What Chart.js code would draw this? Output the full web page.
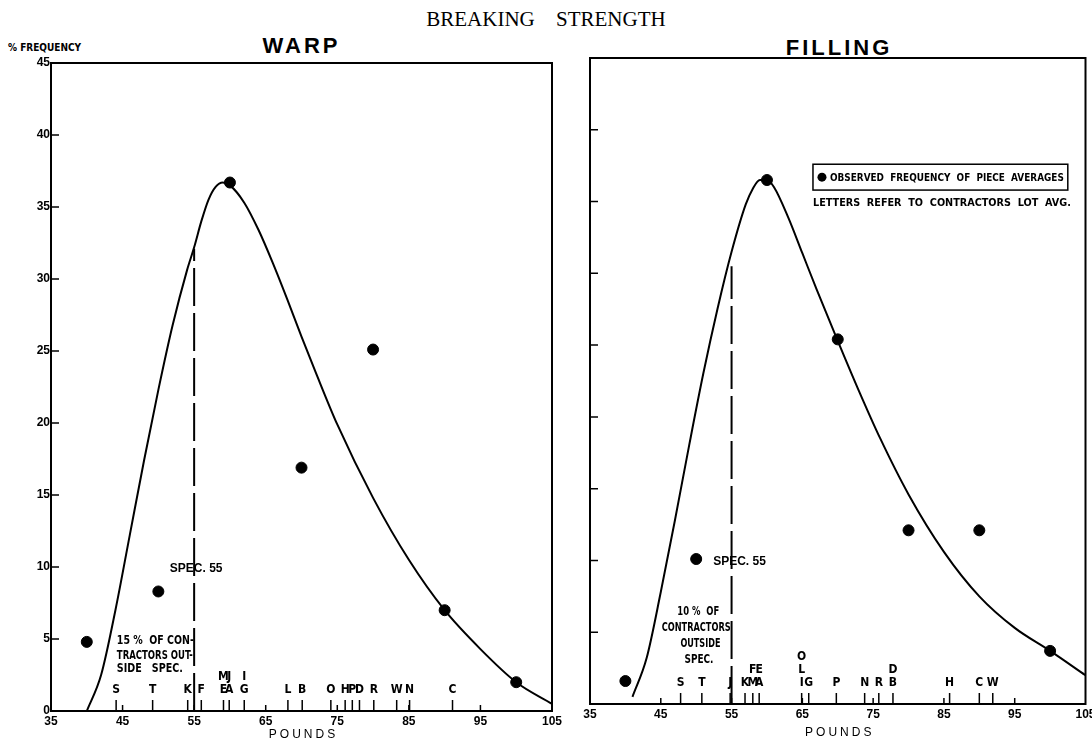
<!DOCTYPE html>
<html>
<head>
<meta charset="utf-8">
<script src="https://cdn.jsdelivr.net/npm/chart.js@4.4.1/dist/chart.umd.min.js"></script>
<style>
  html, body { margin: 0; padding: 0; background: #fff; }
  body { width: 1092px; height: 747px; position: relative; overflow: hidden; }
  canvas { position: absolute; top: 0; }
  #warpChart { left: 0; }
  #fillChart { left: 560px; }
  .hd { position: absolute; white-space: nowrap; color: #000; line-height: 1; }
  #mainTitle { left: 0; width: 1092px; top: 7px; text-align: center;
    font: 21px "Liberation Serif", "DejaVu Serif", serif; word-spacing: 16px; }
  #warpTitle { left: 51px; width: 501px; top: 33px; text-align: center;
    font: bold 22px "Liberation Sans", Arial, sans-serif; letter-spacing: 3px; }
  #fillTitle { left: 590px; width: 498px; top: 35px; text-align: center;
    font: bold 22px "Liberation Sans", Arial, sans-serif; letter-spacing: 3px; }
  #freq { left: 8px; top: 43px; font-weight: bold; font-size: 10px;
    font-family: "DejaVu Sans Condensed", "DejaVu Sans", sans-serif; font-stretch: condensed; }
</style>
</head>
<body>
<div class="hd" id="mainTitle">BREAKING STRENGTH</div>
<div class="hd" id="warpTitle">WARP</div>
<div class="hd" id="fillTitle">FILLING</div>
<div class="hd" id="freq">% FREQUENCY</div>
<canvas id="warpChart" width="570" height="747"></canvas>
<canvas id="fillChart" width="532" height="747"></canvas>

<script>
// ==== o'qlar ====
const xTicks = [35, 45, 55, 65, 75, 85, 95, 105];
const yTicks = [0, 5, 10, 15, 20, 25, 30, 35, 40, 45];
const specValue = 55;

// ==== WARP: kuzatilgan nuqtalar ====
const warpDotX = [40, 50, 60, 70, 80, 90, 100];
const warpDotY = [4.8, 8.3, 36.7, 16.9, 25.1, 7.0, 2.0];

// ==== WARP: egri chiziq ====
const warpCurveX = [40, 42, 44, 46, 48, 50, 52, 54, 55, 56, 57, 58, 59, 60, 62, 64, 66, 68, 70, 72, 75, 80, 85, 90, 95, 100, 105];
const warpCurveY = [0, 2.5, 7, 12.2, 17.4, 22.3, 26.8, 30.6, 32.2, 34.0, 35.5, 36.4, 36.7, 36.5, 35.3, 33.4, 31.1, 28.6, 26.0, 23.5, 19.9, 14.8, 10.5, 7.0, 4.3, 2.0, 0.5];
const warpSpecTop = 32.1;

// ==== WARP: pudratchilar harflari (pastdan yuqoriga) ====
const warpLetters = ['S', 'T', 'K', 'F', 'EM', 'AJ', 'GI', 'L', 'B', 'O', 'H', 'P', 'D', 'R', 'W', 'N', 'C'];
const warpLetterX = [44.1, 49.2, 54.1, 56.0, 59.1, 59.9, 62.0, 68.1, 70.1, 74.1, 76.1, 77.1, 78.1, 80.1, 83.3, 85.1, 91.1];

// ==== FILLING: kuzatilgan nuqtalar ====
const fillDotX = [40, 50, 60, 70, 80, 90, 100];
const fillDotY = [1.6, 10.1, 36.5, 25.4, 12.1, 12.1, 3.7];

// ==== FILLING: egri chiziq ====
const fillCurveX = [41, 43, 45, 47, 49, 51, 53, 55, 57, 58, 59, 60, 61, 63, 65, 67, 70, 73, 76, 80, 85, 90, 95, 100, 105];
const fillCurveY = [0.5, 3.2, 7.8, 12.8, 18.0, 23.0, 27.5, 31.5, 34.8, 35.9, 36.5, 36.5, 36.0, 33.9, 31.4, 28.9, 25.3, 21.8, 18.5, 14.6, 10.6, 7.5, 5.3, 3.7, 2.0];
const fillSpecTop = 30.5;

// ==== FILLING: pudratchilar harflari ====
const fillLetters = ['S', 'T', 'J', 'K', 'MF', 'AE', 'ILO', 'G', 'P', 'N', 'R', 'BD', 'H', 'C', 'W'];
const fillLetterX = [47.8, 50.8, 54.8, 56.9, 58.0, 58.9, 64.9, 65.9, 69.8, 73.8, 75.8, 77.8, 85.8, 90.0, 91.9];

const boldFont = '"Liberation Sans", Arial, sans-serif';
const narrowFont = '"DejaVu Sans Condensed", "DejaVu Sans", sans-serif';

const pairs = (xs, ys) => xs.map((x, i) => ({x: x, y: ys[i]}));

// ==== tor shriftni o'rnatuvchi funksiya ====
const setNarrow = (ctx, size) => {
    ctx.font = 'bold ' + size + 'px ' + narrowFont;
    ctx.fontStretch = 'condensed';
};

// ==== ramka, tiklar, harflar va yozuvlarni chizuvchi plagin ====
const extrasPlugin = {
    id: 'extras',
    afterDatasetsDraw(chart, args, opts) {
        const {ctx, chartArea: a, scales: {x, y}} = chart;
        ctx.save();
        ctx.strokeStyle = '#000';
        ctx.fillStyle = '#000';

        // ramka
        ctx.lineWidth = 2;
        ctx.strokeRect(a.left, a.top, a.right - a.left, a.bottom - a.top);

        // ichki tiklar
        ctx.lineWidth = 1.5;
        ctx.beginPath();
        yTicks.slice(1, -1).forEach(v => {
            const py = y.getPixelForValue(v);
            ctx.moveTo(a.left, py);
            ctx.lineTo(a.left + 8, py);
        });
        xTicks.slice(1, -1).forEach(v => {
            const px = x.getPixelForValue(v);
            ctx.moveTo(px, a.bottom);
            ctx.lineTo(px, a.bottom - 6);
        });
        ctx.stroke();

        // harflar
        setNarrow(ctx, 12);
        ctx.textAlign = 'center';
        ctx.textBaseline = 'alphabetic';
        ctx.lineWidth = 1.5;
        opts.letters.forEach((s, i) => {
            const px = x.getPixelForValue(opts.letterX[i]);
            ctx.beginPath();
            ctx.moveTo(px, a.bottom);
            ctx.lineTo(px, a.bottom - 11);
            ctx.stroke();
            s.split('').forEach((ch, k) => {
                ctx.fillText(ch, px, a.bottom - 18 - k * 13);
            });
        });

        // yozuvlar
        ctx.textBaseline = 'middle';
        opts.notes.forEach(n => {
            if (n.narrow) {
                setNarrow(ctx, n.size);
            } else {
                ctx.font = 'bold ' + n.size + 'px ' + boldFont;
                ctx.fontStretch = 'normal';
            }
            ctx.textAlign = n.align;
            ctx.fillText(n.text, x.getPixelForValue(n.x), y.getPixelForValue(n.y), n.w);
        });

        // POUNDS
        ctx.font = '12px ' + boldFont;
        ctx.fontStretch = 'normal';
        ctx.letterSpacing = '3px';
        ctx.textAlign = 'center';
        ctx.fillText('POUNDS', (a.left + a.right) / 2 + 2, opts.poundsY);
        ctx.letterSpacing = '0px';

        // legenda
        if (opts.legend) {
            const L = opts.legend;
            const x0 = x.getPixelForValue(L.x0), x1 = x.getPixelForValue(L.x1);
            const y0 = y.getPixelForValue(L.y0), y1 = y.getPixelForValue(L.y1);
            ctx.lineWidth = 1.5;
            ctx.strokeRect(x0, y0, x1 - x0, y1 - y0);
            ctx.beginPath();
            ctx.arc(x0 + 9, (y0 + y1) / 2, 4.5, 0, Math.PI * 2);
            ctx.fill();
            setNarrow(ctx, 11);
            ctx.textAlign = 'left';
            ctx.fillText(L.line1, x0 + 17, (y0 + y1) / 2 + 1, x1 - x0 - 21);
            ctx.fillText(L.line2, x0, y.getPixelForValue(L.y2), x1 - x0 + 3);
        }
        ctx.restore();
    }
};

const makeChart = (id, dotX, dotY, curveX, curveY, specTop, cfg) => {
    return new Chart(document.getElementById(id), {
        data: {
            datasets: [
                {
                    type: 'line',
                    label: 'curve',
                    data: pairs(curveX, curveY),
                    borderColor: '#000',
                    borderWidth: 2,
                    pointRadius: 0,
                    tension: 0.4,
                    cubicInterpolationMode: 'monotone'
                },
                {
                    type: 'line',
                    label: 'spec',
                    data: [{x: specValue, y: 0}, {x: specValue, y: specTop}],
                    borderColor: '#000',
                    borderWidth: 2,
                    borderDash: [38, 7],
                    pointRadius: 0
                },
                {
                    type: 'scatter',
                    label: 'observed',
                    data: pairs(dotX, dotY),
                    backgroundColor: '#000',
                    borderColor: '#000',
                    pointRadius: 5.5
                }
            ]
        },
        options: {
            responsive: false,
            animation: false,
            layout: {padding: cfg.padding},
            plugins: {
                legend: {display: false},
                tooltip: {enabled: false},
                extras: {letters: cfg.letters, letterX: cfg.letterX, notes: cfg.notes, legend: cfg.legend, poundsY: cfg.poundsY}
            },
            scales: {
                x: {
                    type: 'linear',
                    min: 35,
                    max: 105,
                    afterBuildTicks: s => { s.ticks = xTicks.map(v => ({value: v})); },
                    afterFit: s => { s.height = cfg.xHeight; s.paddingLeft = 0; s.paddingRight = 0; },
                    ticks: {color: '#000', font: {family: boldFont, size: 12, weight: 'bold'}, padding: 3, maxRotation: 0, autoSkip: false},
                    grid: {drawOnChartArea: false, drawTicks: false},
                    border: {color: '#000', width: 2}
                },
                y: {
                    type: 'linear',
                    min: 0,
                    max: 45,
                    afterBuildTicks: s => { s.ticks = yTicks.map(v => ({value: v})); },
                    afterFit: s => { s.width = cfg.yWidth; },
                    ticks: {display: cfg.yLabels, color: '#000', font: {family: boldFont, size: 12, weight: 'bold'}, padding: 1},
                    grid: {drawOnChartArea: false, drawTicks: false},
                    border: {color: '#000', width: 2}
                }
            }
        },
        plugins: [extrasPlugin]
    });
};

const warpChart = makeChart('warpChart', warpDotX, warpDotY, warpCurveX, warpCurveY, warpSpecTop, {
    padding: {top: 63, right: 18, left: 0, bottom: 0},
    xHeight: 36,
    yWidth: 51,
    yLabels: true,
    poundsY: 735,
    letters: warpLetters,
    letterX: warpLetterX,
    notes: [
        {text: 'SPEC. 55', x: 51.6, y: 9.9, align: 'left', size: 12, w: 57},
        {text: '15 %  OF CON-', x: 44.2, y: 4.85, align: 'left', size: 12, narrow: true, w: 77},
        {text: 'TRACTORS OUT-', x: 44.2, y: 3.8, align: 'left', size: 12, narrow: true, w: 76},
        {text: 'SIDE   SPEC.', x: 44.2, y: 2.9, align: 'left', size: 12, narrow: true, w: 66}
    ]
});

const fillChart = makeChart('fillChart', fillDotX, fillDotY, fillCurveX, fillCurveY, fillSpecTop, {
    padding: {top: 58, right: 4, left: 0, bottom: 0},
    xHeight: 43,
    yWidth: 30,
    yLabels: false,
    poundsY: 733,
    letters: fillLetters,
    letterX: fillLetterX,
    notes: [
        {text: 'SPEC. 55', x: 52.4, y: 9.9, align: 'left', size: 12, w: 60},
        {text: '10 %  OF', x: 50.3, y: 6.4, align: 'center', size: 12, narrow: true, w: 42},
        {text: 'CONTRACTORS', x: 50.0, y: 5.3, align: 'center', size: 12, narrow: true, w: 69},
        {text: 'OUTSIDE', x: 50.6, y: 4.2, align: 'center', size: 12, narrow: true, w: 40},
        {text: 'SPEC.', x: 50.4, y: 3.1, align: 'center', size: 12, narrow: true, w: 29}
    ],
    legend: {
        x0: 66.5, x1: 102.5, y0: 37.6, y1: 35.8, y2: 34.9,
        line1: 'OBSERVED  FREQUENCY  OF  PIECE  AVERAGES',
        line2: 'LETTERS  REFER  TO  CONTRACTORS  LOT  AVG.'
    }
});
</script>
</body>
</html>
